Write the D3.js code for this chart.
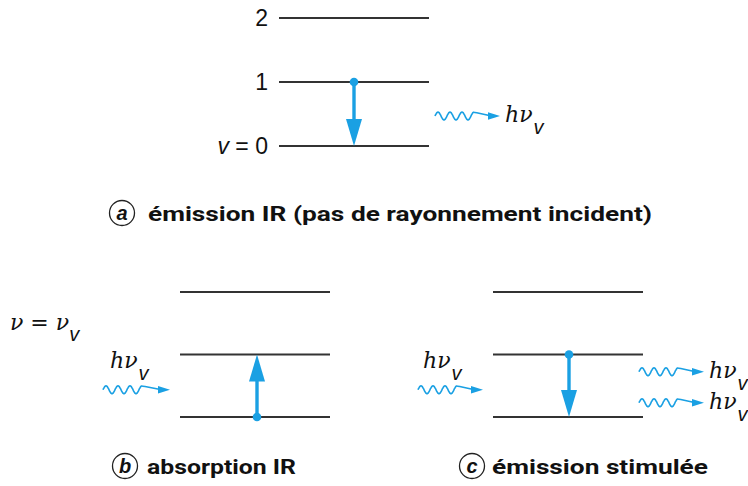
<!DOCTYPE html>
<html><head><meta charset="utf-8">
<script src="https://cdn.jsdelivr.net/npm/d3@7"></script>
<style>
html,body{margin:0;padding:0;background:#fff;}
svg{display:block;}
.cap{font-family:"Liberation Sans Narrow","Roboto","Liberation Sans",sans-serif;font-weight:bold;font-size:21px;fill:#111;}
.lvl{font-family:"Liberation Sans",Arial,sans-serif;font-size:23px;fill:#111;}
.hnu{font-family:"DejaVu Serif","Liberation Serif",serif;font-style:italic;font-size:22px;fill:#111;}
.sub{font-family:"Liberation Sans",Arial,sans-serif;font-style:italic;font-size:20px;fill:#111;}
</style>
</head><body>
<svg id="c" width="748" height="486"></svg>
<script>
// ---- data ----
const levels = [0, 1, 2];
const levelLabels = ["v = 0", "1", "2"];
const panels = ["a", "b", "c"];
const captions = ["émission IR (pas de rayonnement incident)", "absorption IR", "émission stimulée"];
const transitionFrom = [1, 0, 1];
const transitionTo = [0, 1, 0];
const incomingPhotons = [0, 1, 1];
const outgoingPhotons = [1, 0, 2];
const photonLabel = "hν";
const photonSub = "v";
const resonanceLabel = "ν = ν";

// ---- layout ----
const blue = "#1aa0e3";
const ink = "#333";
const svg = d3.select("#c");

const panelX = {a: [279, 429], b: [180, 330], c: [493, 643]};
const panelY = {a: [146, 18], b: [417, 292], c: [417, 292]};
const capPos = {a: {cx:122, cy:213, tx:148, ty:221, w:504},
                b: {cx:125, cy:466, tx:147, ty:474, w:149},
                c: {cx:472, cy:466, tx:492, ty:474, w:216}};

function wave(g, x0, y0, x1) {
  // wavy photon: sine portion then straight tail + arrowhead
  const amp = 4, wl = 12, n = 3.25;
  const pts = d3.range(0, wl * n + 0.01, 0.5).map(t => [x0 + t, y0 - amp * Math.sin(2 * Math.PI * t / wl)]);
  pts.push([x1 - 9, y0]);
  g.append("path").attr("d", d3.line().curve(d3.curveBasis)(pts)).attr("fill", "none")
    .attr("stroke", blue).attr("stroke-width", 1.6);
  g.append("path").attr("d", d3.line()([[x1 - 12, y0 - 3.8], [x1, y0], [x1 - 12, y0 + 3.8]]) + "Z")
    .attr("fill", blue);
}

function hnu(g, x, y) {
  const t = g.append("text").attr("x", x).attr("y", y);
  t.append("tspan").attr("class", "hnu").text(photonLabel);
  t.append("tspan").attr("class", "sub").attr("dy", 12).attr("dx", 1).text(photonSub);
}

panels.forEach((p, i) => {
  const g = svg.append("g");
  const x = d3.scaleLinear().domain([0, 1]).range(panelX[p]);
  const y = d3.scaleLinear().domain([0, 2]).range(panelY[p]);

  // levels
  g.selectAll("line.lev").data(levels).join("line")
    .attr("x1", x(0)).attr("x2", x(1))
    .attr("y1", d => y(d)).attr("y2", d => y(d))
    .attr("stroke", ink).attr("stroke-width", 2.2);

  if (p === "a") {
    g.selectAll("text.lvl").data(levels).join("text").attr("class", "lvl")
      .attr("x", x(0) - 11).attr("y", d => y(d) + 8).attr("text-anchor", "end")
      .each(function(d) {
        const t = d3.select(this);
        if (d === 0) {
          t.append("tspan").attr("font-style", "italic").text("v");
          t.append("tspan").text(" = 0");
        } else t.text(levelLabels[d]);
      });
  }

  // transition arrow
  const ax = x(0.5) + (p === "b" ? 2 : (p === "c" ? 1 : 0));
  const yf = y(transitionFrom[i]), yt = y(transitionTo[i]);
  const dir = Math.sign(yt - yf);
  const headL = 27, headW = 8;
  g.append("line").attr("x1", ax).attr("x2", ax).attr("y1", yf).attr("y2", yt - dir * headL + dir * 2)
    .attr("stroke", blue).attr("stroke-width", 3.4);
  g.append("circle").attr("cx", ax).attr("cy", yf).attr("r", 4.3).attr("fill", blue);
  g.append("path").attr("d", d3.line()([[ax - headW, yt - dir * headL], [ax, yt], [ax + headW, yt - dir * headL]]) + "Z")
    .attr("fill", blue);

  // photons
  if (incomingPhotons[i] > 0) {
    const wx0 = x(0) - 77 + (p === "c" ? 2 : 0), wy = y(0.5) + 4;
    wave(g, wx0, wy, x(0) - 10);
    hnu(g, x(0) - 70, wy - 22);
  }
  for (let k = 0; k < outgoingPhotons[i]; k++) {
    let wx0, wy;
    if (p === "a") { wx0 = x(1) + 6; wy = y(0.5) + 2; }
    else { wx0 = x(1) - 4; wy = y(0.5) - 14 + 31 * k; }
    wave(g, wx0, wy, wx0 + 65);
    hnu(g, wx0 + 70, wy + 6);
  }

  // caption
  const c = capPos[p];
  g.append("circle").attr("cx", c.cx).attr("cy", c.cy).attr("r", 12.5)
    .attr("fill", "none").attr("stroke", "#222").attr("stroke-width", 1.3);
  g.append("text").attr("x", c.cx).attr("y", c.cy + 6.5).attr("text-anchor", "middle")
    .attr("font-family", "Liberation Sans, Arial, sans-serif").attr("font-style", "italic")
    .attr("font-weight", "bold").attr("font-size", 20).attr("fill", "#111").text(p);
  g.append("text").attr("class", "cap").attr("x", c.tx).attr("y", c.ty)
    .attr("textLength", c.w).attr("lengthAdjust", "spacingAndGlyphs").text(captions[i]);
});

// resonance condition label
const rl = svg.append("text").attr("x", 10).attr("y", 330);
rl.append("tspan").attr("class", "hnu").attr("font-size", 24).text(resonanceLabel);
rl.append("tspan").attr("class", "sub").attr("dy", 11).attr("dx", 0).text(photonSub);
</script>
</body></html>
